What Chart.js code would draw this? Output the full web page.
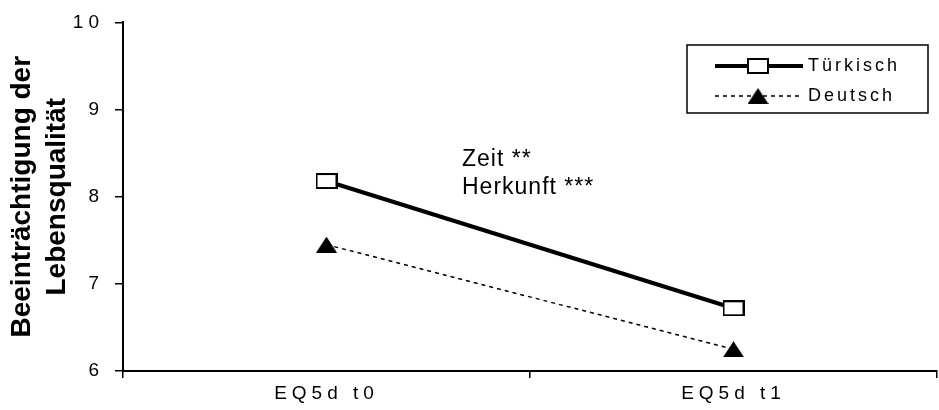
<!DOCTYPE html>
<html>
<head>
<meta charset="utf-8">
<script src="https://cdn.jsdelivr.net/npm/chart.js@4"></script>
<style>
  html, body { margin: 0; padding: 0; background: #fff; overflow: hidden; }
  #wrap { width: 951px; height: 410px; }
</style>
</head>
<body>
<div id="wrap"><canvas id="c" width="951" height="410"></canvas></div>
<script>
// Mean impairment of quality of life (EQ-5D) at two time points
const categories = ['EQ5d t0', 'EQ5d t1'];
const tuerkisch = [8.18, 6.72];
const deutsch = [7.45, 6.25];
const seriesNames = ['Türkisch', 'Deutsch'];
const yMin = 6, yMax = 10, yStep = 1;
const yTitle = ['Beeinträchtigung der', 'Lebensqualität'];
const effectNotes = ['Zeit **', 'Herkunft ***'];

const FONT = '"Liberation Sans", Arial, sans-serif';

// open square marker, a little wider than tall
function squareMarker(w, h) {
  const c = document.createElement('canvas');
  c.width = w; c.height = h;
  const g = c.getContext('2d');
  g.fillStyle = '#fff';
  g.fillRect(0, 0, w, h);
  g.strokeStyle = '#000';
  g.lineWidth = 2;
  g.strokeRect(1, 1, w - 2, h - 2);
  return c;
}
// filled triangle marker
function triangleMarker(w, h) {
  const c = document.createElement('canvas');
  c.width = w; c.height = h;
  const g = c.getContext('2d');
  g.fillStyle = '#000';
  g.beginPath();
  g.moveTo(w / 2, 0);
  g.lineTo(w, h);
  g.lineTo(0, h);
  g.closePath();
  g.fill();
  return c;
}
const sq = squareMarker(22, 16);
const tri = triangleMarker(21, 16);

// spaced glyphs for tick labels; plain text for the rest
const textSpacing = {
  id: 'textSpacing',
  beforeDraw(chart) { chart.ctx.letterSpacing = '5px'; },
  afterDatasetsDraw(chart) { chart.ctx.letterSpacing = '0px'; }
};

const extras = {
  id: 'extras',
  afterDraw(chart) {
    const ctx = chart.ctx;
    ctx.save();
    // axis title
    ctx.letterSpacing = '0px';
    ctx.fillStyle = '#000';
    ctx.font = 'bold 28px ' + FONT;
    ctx.textAlign = 'center';
    ctx.textBaseline = 'middle';
    const midY = (chart.chartArea.top + chart.chartArea.bottom) / 2;
    yTitle.forEach((line, i) => {
      ctx.save();
      ctx.translate(22 + i * 35, midY);
      ctx.rotate(-Math.PI / 2);
      ctx.fillText(line, 0, 0);
      ctx.restore();
    });
    // significance notes
    ctx.font = '23px ' + FONT;
    ctx.textAlign = 'left';
    ctx.letterSpacing = '1px';
    effectNotes.forEach((t, i) => ctx.fillText(t, 462, 160 + i * 28));

    // legend
    const bx = 687, by = 45, bw = 241, bh = 68;
    ctx.letterSpacing = '0px';
    ctx.lineWidth = 1.5;
    ctx.strokeStyle = '#000';
    ctx.strokeRect(bx, by, bw, bh);
    const ds = chart.data.datasets;
    const rows = [66, 96];
    ds.forEach((d, i) => {
      const y = rows[i];
      ctx.save();
      ctx.strokeStyle = d.borderColor;
      ctx.lineWidth = d.borderWidth;
      ctx.setLineDash(d.borderDash || []);
      ctx.beginPath();
      ctx.moveTo(715, y);
      ctx.lineTo(803, y);
      ctx.stroke();
      ctx.restore();
      const img = d.pointStyle;
      ctx.drawImage(img, 758 - img.width / 2, y - img.height / 2);
      ctx.font = '18px ' + FONT;
      ctx.letterSpacing = '3px';
      ctx.textAlign = 'left';
      ctx.fillStyle = '#000';
      ctx.fillText(d.label, 808, y);
      ctx.letterSpacing = '0px';
    });
    ctx.restore();
  }
};

new Chart(document.getElementById('c'), {
  type: 'line',
  data: {
    labels: categories,
    datasets: [
      {
        label: seriesNames[0],
        data: tuerkisch,
        borderColor: '#000',
        borderWidth: 4,
        pointStyle: sq,
        pointRadius: 10,
        fill: false
      },
      {
        label: seriesNames[1],
        data: deutsch,
        borderColor: '#000',
        borderWidth: 1.5,
        borderDash: [4, 4],
        pointStyle: tri,
        pointRadius: 10,
        fill: false
      }
    ]
  },
  options: {
    responsive: false,
    devicePixelRatio: 1,
    animation: false,
    events: [],
    layout: { padding: { top: 19, right: 1, left: 0, bottom: 0 } },
    plugins: { legend: { display: false }, tooltip: { enabled: false } },
    scales: {
      x: {
        type: 'category',
        offset: true,
        grid: {
          offset: true,
          drawOnChartArea: false,
          drawTicks: true,
          tickLength: 7,
          color: '#000',
          lineWidth: 1.5
        },
        border: { color: '#000', width: 2 },
        ticks: {
          color: '#000',
          font: { family: FONT, size: 19 },
          padding: 4,
          maxRotation: 0
        },
        afterFit(s) { s.height = 39; }
      },
      y: {
        min: yMin,
        max: yMax,
        ticks: {
          stepSize: yStep,
          color: '#000',
          font: { family: FONT, size: 19 },
          padding: 11
        },
        grid: {
          drawOnChartArea: false,
          drawTicks: true,
          tickLength: 8,
          color: '#000',
          lineWidth: 1.5
        },
        border: { color: '#000', width: 2 },
        afterFit(s) { s.width = 123; }
      }
    }
  },
  plugins: [textSpacing, extras]
});
</script>
</body>
</html>
